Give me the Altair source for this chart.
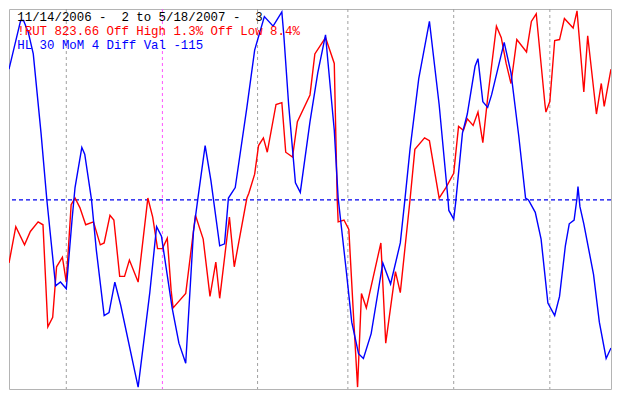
import altair as alt
import pandas as pd

# ---- data (x = bar position, value = level, 0..398) ----
red_x = [0, 7, 16, 22, 30, 35, 40, 45, 49, 55, 59, 64, 68, 73, 79, 87, 94, 98, 104, 108,
         114, 119, 124, 133, 143, 148, 153, 158, 163, 167, 169, 182, 192, 200, 207, 213,
         217, 227, 232, 245, 247, 253, 257, 262, 266, 275, 281, 285, 292, 297, 310, 315,
         326, 335, 338, 339, 345, 350, 355, 359, 363, 368, 383, 388, 398, 403, 413, 418,
         428, 433, 443, 450, 458, 463, 468, 472, 478, 483, 488, 493, 502, 507, 512, 517,
         523, 533, 538, 543, 552, 553, 557, 562, 567, 572, 581, 585, 592, 596, 605, 610,
         613, 620]
red_y = [266, 228, 247, 233, 223, 226, 333, 323, 270, 260, 286, 205, 198, 208, 226, 223,
         247, 245, 216, 221, 280, 280, 263, 286, 198, 218, 251, 251, 240, 295, 313, 298,
         216, 241, 301, 265, 303, 218, 270, 198, 193, 173, 143, 135, 150, 100, 98, 150,
         155, 118, 90, 47, 30, 57, 198, 223, 221, 231, 325, 396, 298, 313, 245, 350, 275,
         297, 200, 147, 135, 138, 198, 187, 172, 123, 127, 115, 122, 108, 140, 93, 18, 30,
         57, 78, 32, 45, 13, 5, 100, 108, 97, 33, 32, 10, 20, 2, 87, 28, 110, 78, 102, 63]

blue_x = [0, 12, 15, 20, 25, 33, 39, 48, 53, 59, 65, 68, 75, 78, 85, 90, 98, 103, 109, 115,
          133, 145, 152, 157, 168, 175, 182, 190, 195, 202, 208, 217, 222, 226, 233, 245,
          253, 263, 272, 281, 283, 288, 295, 300, 310, 318, 326, 328, 335, 339, 347, 353,
          360, 365, 373, 385, 393, 403, 408, 413, 422, 433, 443, 452, 453, 458, 460, 467,
          472, 480, 483, 488, 493, 497, 510, 517, 525, 532, 535, 542, 548, 555, 562, 567,
          573, 577, 582, 585, 586, 588, 592, 602, 608, 615, 620]
blue_y = [63, 12, 12, 25, 47, 130, 200, 290, 286, 293, 220, 187, 145, 152, 200, 253, 321,
          318, 286, 310, 396, 297, 228, 238, 313, 350, 371, 233, 195, 143, 180, 248, 246,
          198, 187, 103, 43, 8, 18, 3, 27, 100, 182, 192, 118, 67, 27, 50, 127, 198, 271,
          328, 361, 366, 340, 266, 288, 245, 197, 147, 73, 13, 100, 198, 211, 220, 203, 130,
          110, 60, 52, 97, 103, 90, 35, 67, 133, 198, 200, 213, 241, 308, 321, 301, 248,
          225, 221, 198, 186, 207, 225, 278, 328, 366, 355]

grid_x = [59, 158, 256, 349, 458, 557]
grid_kind = ["gray", "magenta", "gray", "gray", "gray", "gray"]
zero_level = 198

NB = "\u00a0"
texts = ["11/14/2006 -" + NB + NB + "2 to 5/18/2007 -" + NB + NB + "3",
         "!RUT 823.66 Off High 1.3% Off Low 8.4%",
         "HL 30 MoM 4 Diff Val -115"]
text_colors = ["#000000", "#ff0000", "#0000ff"]

H = 398
red_df = pd.DataFrame({"x": red_x, "v": [H - y for y in red_y]})
blue_df = pd.DataFrame({"x": blue_x, "v": [H - y for y in blue_y]})
grid_df = pd.DataFrame({"x": grid_x, "kind": grid_kind})

xs = alt.Scale(domain=[0, 620], nice=False, zero=False)
ys = alt.Scale(domain=[0, 398], nice=False, zero=False)

W_TOT, H_TOT = 604, 382
sx, sy = W_TOT / 620, H_TOT / 398

grid = alt.Chart(grid_df).mark_rule(strokeDash=[3, 3], strokeWidth=1).encode(
    x=alt.X("x:Q", scale=xs, axis=None),
    color=alt.Color("kind:N", scale=alt.Scale(domain=["gray", "magenta"],
                                              range=["#a0a0a0", "#ff55ff"]), legend=None),
)

zero = alt.Chart(pd.DataFrame({"v": [zero_level]})).mark_rule(
    strokeDash=[4, 3], strokeWidth=1.2, color="#0000ee").encode(
    y=alt.Y("v:Q", scale=ys, axis=None))

red = alt.Chart(red_df).mark_line(color="#ff0000", strokeWidth=1.4, clip=True).encode(
    x=alt.X("x:Q", scale=xs, axis=None), y=alt.Y("v:Q", scale=ys, axis=None))
blue = alt.Chart(blue_df).mark_line(color="#0000ff", strokeWidth=1.4, clip=True).encode(
    x=alt.X("x:Q", scale=xs, axis=None), y=alt.Y("v:Q", scale=ys, axis=None))

baselines = [12, 27, 42]
text_layers = []
for t, c, b in zip(texts, text_colors, baselines):
    text_layers.append(
        alt.Chart(pd.DataFrame({"t": [t]})).mark_text(
            align="left", baseline="alphabetic", font="Liberation Mono",
            fontSize=12.4, color=c).encode(
            text="t:N", x=alt.value(8.5 * sx), y=alt.value(b * sy)))

chart = alt.layer(grid, zero, red, blue, *text_layers).properties(
    width=W_TOT, height=H_TOT, padding=0,
    autosize=alt.AutoSizeParams(type="fit", contains="padding"),
    background="white",
).configure_view(stroke="#b4b4b4", strokeWidth=1)

chart.save("out.html", embed_options={"renderer": "svg", "actions": False})
